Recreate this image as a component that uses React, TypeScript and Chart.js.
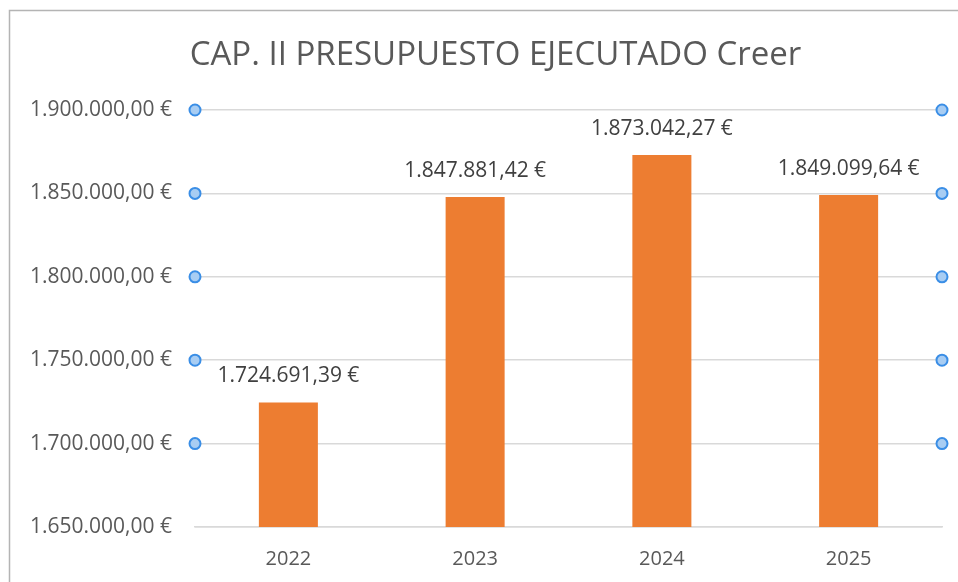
import React, { useEffect, useRef } from "react";
import { Chart, registerables } from "chart.js";

Chart.register(...registerables);

const chartTitle = "CAP. II PRESUPUESTO EJECUTADO Creer";
const categories = ["2022", "2023", "2024", "2025"];
const executed = [1724691.39, 1847881.42, 1873042.27, 1849099.64];
const yMin = 1650000;
const yMax = 1900000;
const yStep = 50000;

const FONT = "'Open Sans', sans-serif";

function euro(v: number): string {
  const [i, d] = Math.abs(v).toFixed(2).split(".");
  const g = i.replace(/\B(?=(\d{3})+(?!\d))/g, ".");
  return (v < 0 ? "-" : "") + g + "," + d + " €";
}

const decorPlugin = {
  id: "decor",
  beforeDraw(chart: any) {
    const ctx = chart.ctx;
    ctx.save();
    ctx.strokeStyle = "#B4B4B4";
    ctx.lineWidth = 1.5;
    ctx.beginPath();
    ctx.moveTo(9.5, chart.height);
    ctx.lineTo(9.5, 10.5);
    ctx.lineTo(chart.width, 10.5);
    ctx.stroke();
    ctx.restore();
  },
  afterDraw(chart: any) {
    const ctx = chart.ctx;
    const area = chart.chartArea;
    const ys = chart.scales.y;
    // title (centred on the original chart frame, which extends past the crop)
    ctx.save();
    ctx.font = `33px ${FONT}`;
    ctx.fillStyle = "#595959";
    ctx.textAlign = "center";
    ctx.textBaseline = "middle";
    ctx.fillText(chartTitle, 495.5, 56);
    ctx.restore();
    // data labels
    ctx.save();
    ctx.font = `21px ${FONT}`;
    ctx.fillStyle = "#404040";
    ctx.textAlign = "center";
    ctx.textBaseline = "middle";
    const meta = chart.getDatasetMeta(0);
    meta.data.forEach((bar: any, idx: number) => {
      const v = chart.data.datasets[0].data[idx] as number;
      ctx.fillText(euro(v), bar.x, bar.y - 26);
    });
    ctx.restore();
    // selection handles on gridlines
    ctx.save();
    ys.ticks.forEach((t: any) => {
      if (t.value <= yMin) return;
      const y = ys.getPixelForValue(t.value);
      [area.left, area.right].forEach((x: number) => {
        ctx.beginPath();
        ctx.arc(x, y, 5.5, 0, Math.PI * 2);
        ctx.fillStyle = "#A8CDF3";
        ctx.fill();
        ctx.lineWidth = 2;
        ctx.strokeStyle = "#3A8EE6";
        ctx.stroke();
      });
    });
    ctx.restore();
  },
};

export default function App() {
  const ref = useRef<HTMLCanvasElement | null>(null);

  useEffect(() => {
    if (!ref.current) return;
    const chart = new Chart(ref.current, {
      type: "bar",
      data: {
        labels: categories,
        datasets: [
          {
            label: "Ejecutado",
            data: executed,
            backgroundColor: "#ED7D31",
            borderWidth: 0,
            categoryPercentage: 1,
            barPercentage: 0.316,
          },
        ],
      },
      options: {
        responsive: false,
        animation: false,
        devicePixelRatio: 1,
        layout: { padding: { left: 10, right: 16, top: 110, bottom: 0 } },
        plugins: {
          legend: { display: false },
          tooltip: { enabled: false },
          title: { display: false },
        },
        scales: {
          x: {
            grid: { display: false, drawTicks: false },
            border: { display: true, color: "#D9D9D9", width: 1.5 },
            ticks: {
              color: "#595959",
              font: { family: FONT, size: 20 },
              padding: 20,
            },
            afterFit(scale: any) {
              scale.height = 55;
            },
          },
          y: {
            min: yMin,
            max: yMax,
            grid: { color: "#D9D9D9", lineWidth: 1.5, drawTicks: false },
            border: { display: false },
            ticks: {
              stepSize: yStep,
              color: "#595959",
              font: { family: FONT, size: 21 },
              padding: 23,
              callback: (v: any) => euro(Number(v)),
            },
            afterFit(scale: any) {
              scale.width = 185;
            },
          },
        },
      },
      plugins: [decorPlugin],
    });
    return () => chart.destroy();
  }, []);

  return (
    <div style={{ position: "fixed", left: 0, top: 0, width: 958, height: 582, background: "#fff" }}>
      <canvas ref={ref} width={958} height={582} style={{ display: "block" }} />
    </div>
  );
}
